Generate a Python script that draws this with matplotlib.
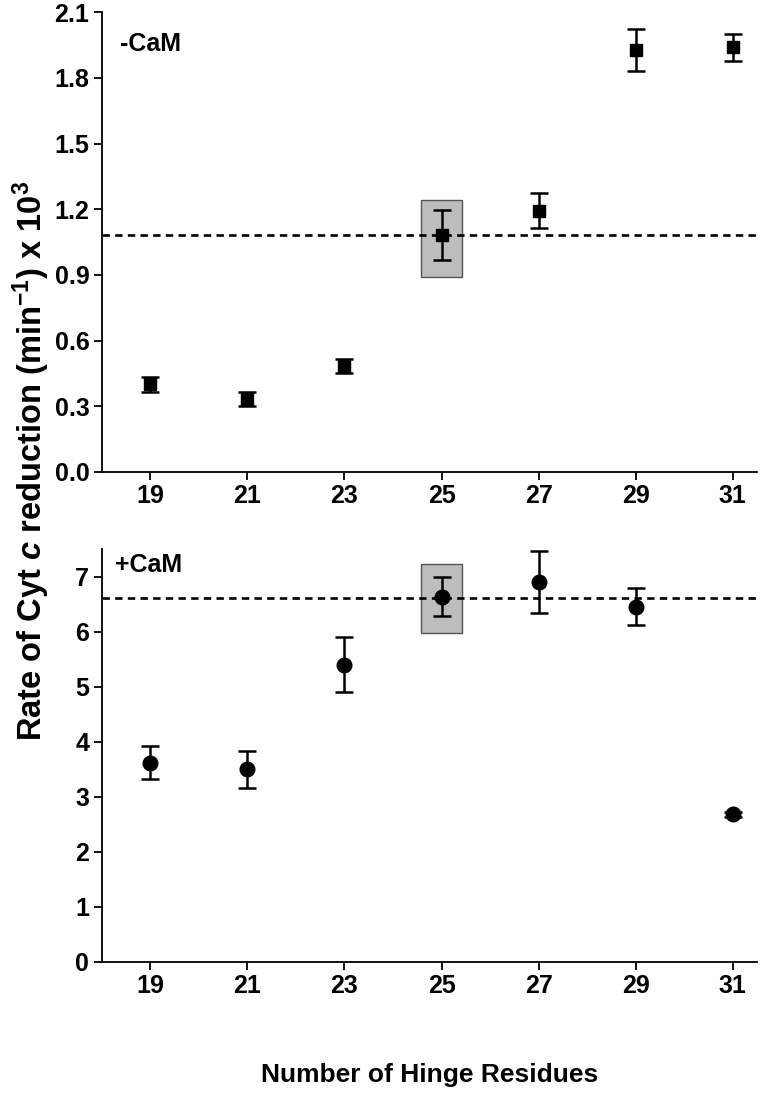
import matplotlib
matplotlib.use("Agg")
import matplotlib.pyplot as plt
from matplotlib.patches import Rectangle

plt.rcParams['font.family'] = ['Liberation Sans', 'DejaVu Sans']
plt.rcParams['font.weight'] = 'bold'
plt.rcParams['mathtext.fontset'] = 'custom'
plt.rcParams['mathtext.rm'] = 'Liberation Sans:bold'
plt.rcParams['mathtext.bf'] = 'Liberation Sans:bold'
plt.rcParams['mathtext.it'] = 'Liberation Sans:bold:italic'

hinge = [19, 21, 23, 25, 27, 29, 31]

# -CaM
rate_minus = [0.40, 0.333, 0.484, 1.082, 1.193, 1.927, 1.939]
err_minus = [0.035, 0.032, 0.032, 0.115, 0.079, 0.097, 0.063]
ref_minus = 1.08
box_minus = (24.57, 25.43, 0.89, 1.24)

# +CaM
rate_plus = [3.62, 3.50, 5.40, 6.64, 6.91, 6.46, 2.68]
err_plus = [0.30, 0.34, 0.50, 0.36, 0.56, 0.34, 0.05]
ref_plus = 6.61
box_plus = (24.57, 25.43, 5.98, 7.24)

fig = plt.figure(figsize=(7.6, 11.04), dpi=100)
ax1 = fig.add_axes([0.134, 0.5725, 0.862, 0.4165])
ax2 = fig.add_axes([0.134, 0.1289, 0.862, 0.3735])

def style(ax, ylim, yticks, yfmt, label, lx, ly):
    ax.set_xlim(18, 31.5)
    ax.set_ylim(*ylim)
    ax.set_xticks(hinge)
    ax.set_yticks(yticks)
    ax.set_yticklabels([yfmt.format(v) for v in yticks])
    for s in ['top', 'right']:
        ax.spines[s].set_visible(False)
    for s in ['left', 'bottom']:
        ax.spines[s].set_linewidth(1.3)
    ax.tick_params(direction='out', length=6, width=1.3, labelsize=18, pad=3)
    for t in ax.get_xticklabels() + ax.get_yticklabels():
        t.set_fontweight('bold')
    ax.text(lx, ly, label, transform=ax.transAxes, fontsize=18,
            fontweight='bold', va='top', ha='left')

def draw(ax, vals, errs, ref, box, marker, ms):
    x0, x1, y0, y1 = box
    ax.add_patch(Rectangle((x0, y0), x1 - x0, y1 - y0, facecolor='#bdbdbd',
                           edgecolor='#555555', linewidth=1.0, zorder=1))
    ax.axhline(ref, color='black', lw=1.9, linestyle=(0, (2.8, 2.0)), zorder=2)
    ax.errorbar(hinge, vals, yerr=errs, fmt=marker, color='black', ms=ms,
                ecolor='black', elinewidth=1.8, capsize=6.5, capthick=1.8,
                zorder=3, clip_on=False)

draw(ax1, rate_minus, err_minus, ref_minus, box_minus, 's', 8.5)
draw(ax2, rate_plus, err_plus, ref_plus, box_plus, 'o', 10.5)

style(ax1, (0, 2.1), [0.0, 0.3, 0.6, 0.9, 1.2, 1.5, 1.8, 2.1], '{:.1f}', '-CaM',
      0.027, 0.956)
style(ax2, (0, 7.5), [0, 1, 2, 3, 4, 5, 6, 7], '{:d}', '+CaM', 0.02, 0.99)

fig.text(0.5 * (0.134 + 0.996), 1 - 1075 / 1104, 'Number of Hinge Residues',
         ha='center', va='center', fontsize=19, fontweight='bold')
fig.text(31 / 760, 1 - 461 / 1104,
         r'Rate of Cyt $\mathit{c}$ reduction (min$^{\mathbf{-1}}$) x 10$^{\mathbf{3}}$',
         rotation=90, ha='center', va='center', fontsize=23.5, fontweight='bold')

fig.savefig('out.png', dpi=100)
